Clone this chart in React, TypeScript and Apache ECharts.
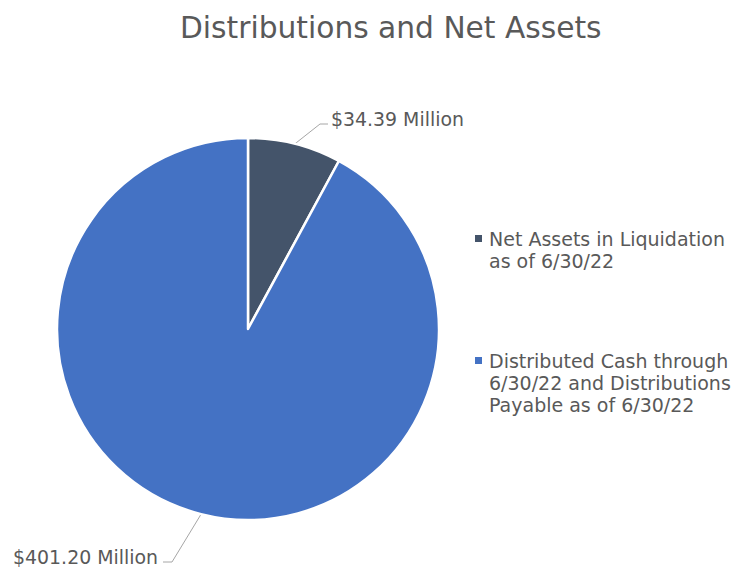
import React, { useEffect, useRef } from "react";
import * as echarts from "echarts";

const titleText = "Distributions and Net Assets";
const categories = [
  "Net Assets in Liquidation as of 6/30/22",
  "Distributed Cash through 6/30/22 and Distributions Payable as of 6/30/22",
];
const legendLines = [
  ["Net Assets in Liquidation", "as of 6/30/22"],
  ["Distributed Cash through", "6/30/22 and Distributions", "Payable as of 6/30/22"],
];
const values = [34.39, 401.2];
const colors = ["#44546A", "#4472C4"];

const FONT = "DejaVu Sans";
const TEXT = "#595959";

const CX = 248;
const CY = 329;
const R = 191;

// label anchors (layout only)
const labelAnchors = [
  { x: 331, y: 119, align: "left" as const, mid: [-11, 5], end: [-3, 5] },
  { x: 158, y: 557, align: "right" as const, mid: [14, 5], end: [5, 5] },
];

export default function App() {
  const ref = useRef<HTMLDivElement>(null);
  useEffect(() => {
    if (!ref.current) return;
    const chart = echarts.init(ref.current, undefined, { renderer: "svg" });
    const total = values.reduce((a, b) => a + b, 0);

    const rich: Record<string, any> = {
      gap: { width: 7 },
      ind: { width: 14 },
      t: { fontSize: 19, lineHeight: 22, color: TEXT, fontFamily: FONT },
    };
    colors.forEach((c, i) => {
      rich["m" + i] = { width: 7, height: 7, backgroundColor: c };
    });

    chart.setOption({
      animation: false,
      backgroundColor: "#ffffff",
      title: {
        text: titleText,
        left: 175,
        top: 7,
        textStyle: { fontFamily: FONT, fontSize: 29.7, fontWeight: "normal", color: TEXT },
      },
      legend: {
        orient: "vertical",
        left: 475,
        top: 229,
        padding: 0,
        itemGap: 81,
        itemWidth: 0,
        itemHeight: 0,
        icon: "none",
        selectedMode: false,
        data: categories,
        formatter: (name: string) => {
          const i = categories.indexOf(name);
          return legendLines[i]
            .map((l, k) => (k === 0 ? `{m${i}|}{gap|}{t|${l}}` : `{ind|}{t|${l}}`))
            .join("\n");
        },
        textStyle: { fontFamily: FONT, fontSize: 19, color: TEXT, rich, padding: [0, 0, 0, -5] },
      },
      series: [
        {
          type: "pie",
          center: [CX, CY],
          radius: R,
          startAngle: 90,
          clockwise: true,
          avoidLabelOverlap: false,
          emphasis: { disabled: true },
          itemStyle: { borderColor: "#ffffff", borderWidth: 2.5 },
          label: {
            show: true,
            position: "outside",
            fontFamily: FONT,
            fontSize: 18.9,
            color: TEXT,
            formatter: (p: any) => `$${Number(p.value).toFixed(2)} Million`,
          },
          labelLine: {
            show: true,
            length: 20,
            length2: 8,
            lineStyle: { color: "#A6A6A6", width: 1 },
          },
          labelLayout: (params: any) => {
            const a = labelAnchors[params.dataIndex];
            let p0 = params.labelLinePoints && params.labelLinePoints[0];
            if (!p0) {
              let acc = 0;
              for (let k = 0; k < params.dataIndex; k++) acc += values[k];
              const midFrac = (acc + values[params.dataIndex] / 2) / total;
              const ang = midFrac * Math.PI * 2;
              p0 = [CX + R * Math.sin(ang), CY - R * Math.cos(ang)];
            }
            return {
              x: a.x,
              y: a.y,
              align: a.align,
              verticalAlign: "middle",
              labelLinePoints: [
                [p0[0], p0[1]],
                [a.x + a.mid[0], a.y + a.mid[1]],
                [a.x + a.end[0], a.y + a.end[1]],
              ],
            };
          },
          data: categories.map((name, i) => ({
            name,
            value: values[i],
            itemStyle: { color: colors[i] },
          })),
        },
      ],
    });
    return () => chart.dispose();
  }, []);
  return (
    <div
      ref={ref}
      style={{ position: "fixed", left: 0, top: 0, width: 738, height: 568 }}
    />
  );
}
